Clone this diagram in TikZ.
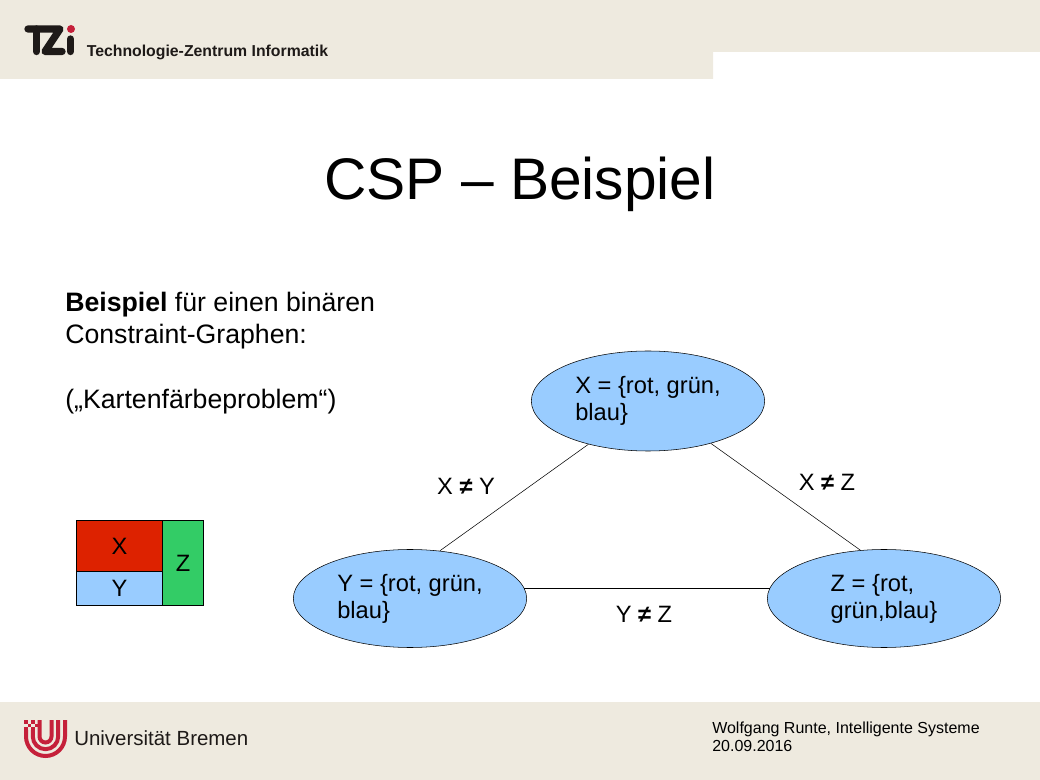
\documentclass[tikz,border=0pt]{standalone}
\usepackage{fontspec}
\setmainfont{Liberation Sans}
\usetikzlibrary{shapes.geometric}
\definecolor{bandcolor}{HTML}{EEEADF}
\definecolor{nodeblue}{HTML}{99CCFF}
\definecolor{mapred}{HTML}{DD2200}
\definecolor{mapgreen}{HTML}{33CC66}
\definecolor{logored}{HTML}{C5203A}
\definecolor{logoblack}{HTML}{1E1A18}
\tikzset{
	band/.style={fill=bandcolor, draw=none},
	domainnode/.style={draw=black, ellipse, fill=nodeblue, minimum width=175pt, minimum height=73.5pt, inner sep=0pt, align=left, font=\fontsize{17.75}{20.25}\selectfont},
	mapcell/.style={draw=black, rectangle, line width=0.75pt, inner sep=0pt, outer sep=0pt, font=\fontsize{17.75}{20}\selectfont},
	edgelabel/.style={inner sep=0pt, font=\fontsize{17.75}{20}\selectfont},
	bodytext/.style={anchor=north west, inner sep=0pt, align=left, font=\fontsize{20}{24.4}\selectfont},
	logoband/.style={draw=logored, line width=3pt},
	tzistroke/.style={draw=logoblack, line width=5.5pt, line cap=round, line join=round}
}
\begin{document}
\begin{tikzpicture}[x=0.75pt, y=-0.75pt]
	\useasboundingbox (0,0) rectangle (1040,780);
	\fill[band] (0,0) -- (1040,0) -- (1040,52) -- (713,52) -- (713,79) -- (0,79) -- cycle;
	\fill[band] (0,702) rectangle (1040,780);
	\draw[tzistroke] (28,29) -- (60,29) -- (45,51.5) -- (62,51.5);
	\draw[tzistroke] (36.5,29) -- (36.5,51.5);
	\draw[tzistroke] (70.5,39) -- (70.5,51.5);
	\fill[logored] (71,29) circle (4);
	\node[anchor=base west, inner sep=0pt, text=logoblack, font=\fontsize{11.86}{15}\selectfont\bfseries] (tzitext) at (86.5,56.5) {Technologie-Zentrum Informatik};
	\draw[logoband] (26,730) -- (26,736.5) arc[start angle=180, end angle=0, radius=19.5] -- (65,720);
	\draw[logoband] (32.8,730) -- (32.8,736.5) arc[start angle=180, end angle=0, radius=12.7] -- (58.2,720);
	\draw[logoband] (39.5,720) -- (39.5,736.5) arc[start angle=180, end angle=0, radius=6] -- (51.5,720);
	\fill[logored] (24,720) rectangle (27.5,723.5);
	\fill[logored] (31,720) rectangle (34.5,723.5);
	\fill[logored] (27.5,723.5) rectangle (31,727);
	\fill[logored] (34.5,723.5) rectangle (38,727);
	\fill[logored] (24,727) rectangle (27.5,730.5);
	\fill[logored] (31,727) rectangle (34.5,730.5);
	\node[anchor=base west, inner sep=0pt, text=logoblack, font=\fontsize{15.35}{20}\selectfont] (unitext) at (74,745) {Universität Bremen};
	\node[anchor=center, inner sep=0pt, font=\fontsize{44}{54}\selectfont] (title) at (520,184) {CSP – Beispiel};
	\node[bodytext] (intro) at (65,291.5) {\textbf{Beispiel} für einen binären\\Constraint-Graphen:\\[24.4pt](„Kartenfärbeproblem“)};
	\node[domainnode, minimum height=75pt] (X) at (648,401) {X = \{rot, grün,\\blau\}};
	\node[domainnode] (Y) at (410,598.5) {Y = \{rot, grün,\\blau\}};
	\node[domainnode] (Z) at (884,598.5) {Z = \{rot,\\grün,blau\}};
	\draw (X.216) -- (Y.58);
	\draw (X.-34) -- (Z.116);
	\draw (Y.5) -- (Z.175);
	\node[edgelabel] (xy) at (466,486) {X \textbf{≠} Y};
	\node[edgelabel] (xz) at (827,482) {X \textbf{≠} Z};
	\node[edgelabel] (yz) at (644,614) {Y \textbf{≠} Z};
	\node[mapcell, fill=mapred, minimum width=64.5pt, minimum height=38.25pt, anchor=north west] (mapX) at (76.5,520.5) {X};
	\node[mapcell, fill=nodeblue, minimum width=64.5pt, minimum height=25.5pt, anchor=north] (mapY) at (mapX.south) {Y};
	\node[mapcell, fill=mapgreen, minimum width=30.75pt, minimum height=63.75pt, anchor=north west] (mapZ) at (mapX.north east) {Z};
	\node[anchor=north west, inner sep=0pt, align=left, font=\fontsize{12}{13.5}\selectfont] (footer) at (712,721.5) {Wolfgang Runte, Intelligente Systeme\\20.09.2016};
\end{tikzpicture}
\end{document}
